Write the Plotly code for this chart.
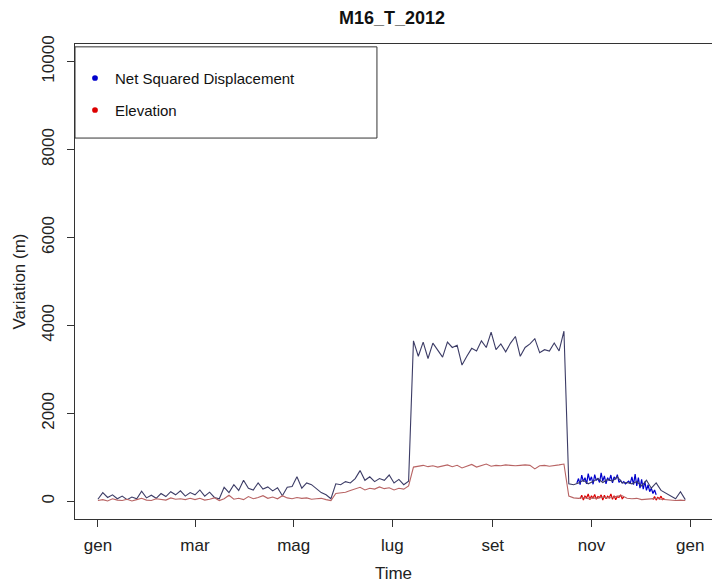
import pandas as pd
import plotly.graph_objects as go

# ---- data ----
start_date = "2012-01-01"
nsd_values = [50,200,90,150,60,120,40,100,60,230,80,140,70,180,110,220,150,240,120,200,
              150,260,120,210,90,60,320,200,380,250,480,300,260,420,280,330,240,310,130,320,
              340,560,300,420,380,300,200,150,60,400,380,450,420,520,700,480,560,450,520,480,600,420,500,380,460,
              3650,3300,3620,3250,3600,3450,3280,3620,3500,3550,3100,3300,3480,3420,3650,3500,3850,3450,3580,3400,
              3600,3750,3300,3500,3580,3700,3380,3450,3420,3600,3420,3870,
              400,380,420,480,400,450,520,430,500,460,560,420,430,400,450,350,480,300,420,250,180,120,60,220,40]
elev_values = [20,40,10,60,30,20,50,10,40,70,30,20,60,40,30,80,50,60,40,70,
               40,70,30,50,80,20,60,140,50,70,40,110,60,90,130,70,100,60,130,80,
               60,90,70,80,50,60,70,40,20,180,200,210,250,280,320,260,300,280,330,290,310,260,300,280,350,
               780,800,820,790,810,780,800,830,790,820,760,800,840,780,810,850,800,820,810,830,
               820,810,820,830,820,740,810,820,800,810,830,850,
               120,80,70,90,60,80,70,100,80,90,120,130,70,60,70,40,50,60,70,50,40,30,20,30,20]
nsd_nov_start = "2012-10-23"
nsd_nov_values = [420,520,380,600,450,540,400,630,470,560,390,610,480,520,430,650,460,580,400,540,
                  470,600,420,560,500,610,430,480,420,450,400,430,460,410,560,380,620,350,540,300,
                  500,280,450,250,380,220,300,180,260,150]
elev_nov_start = "2012-10-25"
elev_nov_values = [60,140,30,120,80,170,40,130,70,160,50,110,90,150,30,140,60,120,80,170,50,130,40,110,90,150,60,100]
elev_dec_start = "2012-12-09"
elev_dec_values = [40,110,30,90,60,120,40,70]

month_ticks = ["2012-01-01","2012-03-01","2012-05-01","2012-07-01","2012-09-01","2012-11-01","2013-01-01"]
month_labels = ["gen","mar","mag","lug","set","nov","gen"]
y_ticks = [0,2000,4000,6000,8000,10000]

nsd_dates = pd.date_range(start_date, periods=len(nsd_values), freq="3D")
elev_dates = pd.date_range(start_date, periods=len(elev_values), freq="3D")
nsd_nov_dates = pd.date_range(nsd_nov_start, periods=len(nsd_nov_values), freq="D")
elev_nov_dates = pd.date_range(elev_nov_start, periods=len(elev_nov_values), freq="D")
elev_dec_dates = pd.date_range(elev_dec_start, periods=len(elev_dec_values), freq="D")

FONT = "Liberation Sans, Arial, sans-serif"

fig = go.Figure()
fig.add_trace(go.Scatter(x=nsd_nov_dates, y=nsd_nov_values, mode="lines",
                         line=dict(color="#0000cc", width=1.2), showlegend=False))
fig.add_trace(go.Scatter(x=nsd_dates, y=nsd_values, mode="lines",
                         line=dict(color="#3c3c66", width=1.1), showlegend=False))
fig.add_trace(go.Scatter(x=elev_nov_dates, y=elev_nov_values, mode="lines",
                         line=dict(color="#dd0000", width=1.2), showlegend=False))
fig.add_trace(go.Scatter(x=elev_dec_dates, y=elev_dec_values, mode="lines",
                         line=dict(color="#dd0000", width=1.2), showlegend=False))
fig.add_trace(go.Scatter(x=elev_dates, y=elev_values, mode="lines",
                         line=dict(color="#b86464", width=1.1), showlegend=False))

# legend drawn manually (R-style box)
shapes = [
    dict(type="rect", xref="paper", yref="paper", x0=0, x1=0.474, y0=0.802, y1=0.994,
         line=dict(color="#333333", width=1), fillcolor="white", layer="above"),
]
for yy, col in [(0.9284, "#0000cc"), (0.861, "#dd0000")]:
    shapes.append(dict(type="circle", xref="paper", yref="paper",
                       x0=0.0314 - 0.0045, x1=0.0314 + 0.0045, y0=yy - 0.006, y1=yy + 0.006,
                       line=dict(color=col, width=0), fillcolor=col, layer="above"))
annotations = [
    dict(text="Net Squared Displacement", xref="paper", yref="paper", x=0.0597, y=0.9284,
         xanchor="left", yanchor="middle", showarrow=False, font=dict(size=15, color="#111111", family=FONT)),
    dict(text="Elevation", xref="paper", yref="paper", x=0.0597, y=0.861,
         xanchor="left", yanchor="middle", showarrow=False, font=dict(size=15, color="#111111", family=FONT)),
]

fig.update_layout(
    width=712, height=586,
    margin=dict(l=75, r=0, t=44, b=67, autoexpand=False),
    paper_bgcolor="white", plot_bgcolor="white",
    font=dict(family=FONT, color="#222222"),
    title=dict(text="<b>M16_T_2012</b>", x=0.5506, xanchor="center", y=0.9693, yanchor="middle",
               font=dict(size=18, family=FONT, color="#111111")),
    shapes=shapes, annotations=annotations,
    showlegend=False,
)
fig.update_xaxes(
    type="date", range=["2011-12-17 20:00", "2013-01-14 12:00"],
    tickvals=month_ticks, ticktext=month_labels,
    ticklabelstandoff=4,
    showgrid=False, zeroline=False, automargin=False,
    showline=True, mirror=True, linecolor="#333333", linewidth=1,
    ticks="outside", ticklen=7, tickcolor="#333333",
    tickfont=dict(size=17, family=FONT, color="#222222"),
    title=dict(text="Time", font=dict(size=17, family=FONT, color="#222222"), standoff=12),
)
fig.update_yaxes(
    range=[-400, 10400], tickvals=y_ticks, ticktext=[str(v) for v in y_ticks],
    tickangle=-90, ticklabelstandoff=6,
    showgrid=False, zeroline=False, automargin=False,
    showline=True, mirror=True, linecolor="#333333", linewidth=1,
    ticks="outside", ticklen=7, tickcolor="#333333",
    tickfont=dict(size=17, family=FONT, color="#222222"),
    title=dict(text="Variation (m)", font=dict(size=17, family=FONT, color="#222222"), standoff=9),
)

page_fix = ("document.body.style.margin='0px';document.body.style.overflow='hidden';"
            "Plotly.relayout(document.getElementById('{plot_id}'), {width: 712, height: 586});")
fig.write_html("out.html", post_script=page_fix, config={"displayModeBar": False})
